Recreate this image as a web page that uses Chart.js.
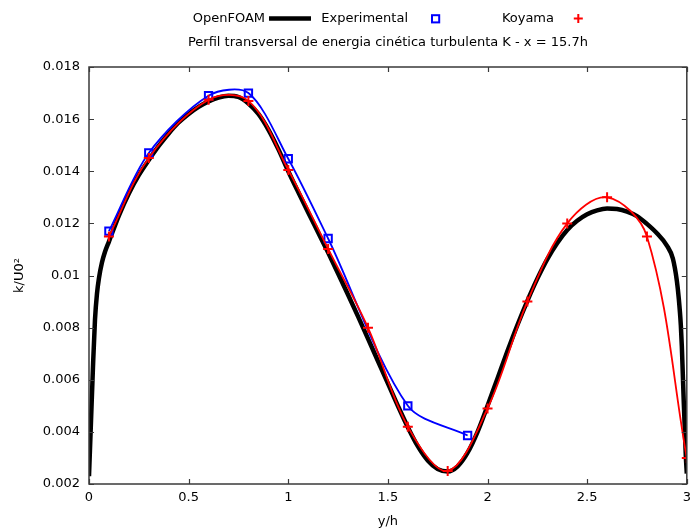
<!DOCTYPE html>
<html>
<head>
<meta charset="utf-8">
<script src="https://cdn.jsdelivr.net/npm/chart.js@4/dist/chart.umd.min.js"></script>
<style>
  html, body { margin: 0; padding: 0; background: #fff; overflow: hidden; }
  #wrap { width: 694px; height: 532px; position: relative; }
</style>
</head>
<body>
<div id="wrap"><canvas id="c"></canvas></div>
<script>
// OpenFOAM profile: position y/h and k/U0^2
const foamYH = [0, 0.01, 0.02, 0.03, 0.04, 0.05, 0.065, 0.08, 0.1, 0.15, 0.2, 0.25, 0.3, 0.35, 0.4, 0.45,
  0.5, 0.55, 0.6, 0.65, 0.7, 0.75, 0.8, 0.85, 0.9, 0.95, 1.0, 1.05, 1.1, 1.15, 1.2, 1.25, 1.3, 1.35,
  1.4, 1.45, 1.5, 1.55, 1.6, 1.65, 1.7, 1.75, 1.8, 1.85, 1.9, 1.95, 2.0, 2.05, 2.1, 2.15, 2.2, 2.25,
  2.3, 2.35, 2.4, 2.45, 2.5, 2.55, 2.6, 2.65, 2.7, 2.75, 2.8, 2.85, 2.9, 2.93, 2.95, 2.96, 2.97,
  2.975, 2.98, 2.985, 2.99, 2.995, 3.0];
const foamK = [0.0023, 0.0044, 0.0065, 0.0083, 0.0093, 0.0099, 0.0105, 0.0109, 0.0113, 0.0123, 0.01315,
  0.01385, 0.01443, 0.01497, 0.01545, 0.01587, 0.0162, 0.01647, 0.01668, 0.01683, 0.0169, 0.01685,
  0.0166, 0.0162, 0.0156, 0.01485, 0.014, 0.0132, 0.01242, 0.01165, 0.01088, 0.01008, 0.00926,
  0.00843, 0.00758, 0.00672, 0.00586, 0.005, 0.00418, 0.00345, 0.0029, 0.00257, 0.00248, 0.00268,
  0.0032, 0.004, 0.005, 0.00605, 0.0071, 0.0081, 0.00903, 0.00988, 0.01063, 0.01125, 0.01175,
  0.0121, 0.01235, 0.0125, 0.01257, 0.01255, 0.01245, 0.01228, 0.01198, 0.01162, 0.01115, 0.01065,
  0.0098, 0.0091, 0.0081, 0.0073, 0.0062, 0.0051, 0.0041, 0.0031, 0.0024];

// Experimental points
const expYH = [0.1, 0.3, 0.6, 0.8, 1.0, 1.2, 1.6, 1.9];
const expK = [0.0117, 0.0147, 0.0169, 0.0170, 0.01448, 0.01142, 0.0050, 0.00386];

// Koyama points
const koyYH = [0.1, 0.3, 0.6, 0.8, 1.0, 1.2, 1.4, 1.6, 1.8, 2.0, 2.2, 2.4, 2.6, 2.8, 3.0];
const koyK = [0.0115, 0.01451, 0.01674, 0.0167, 0.01405, 0.01102, 0.0080, 0.0042, 0.0025, 0.0049,
  0.0090, 0.0120, 0.0130, 0.0115, 0.0030];

// Axis ticks
const xTicks = [0, 0.5, 1, 1.5, 2, 2.5, 3];
const xTickLabels = ['0', '0.5', '1', '1.5', '2', '2.5', '3'];
const yTicks = [0.002, 0.004, 0.006, 0.008, 0.01, 0.012, 0.014, 0.016, 0.018];
const yTickLabels = ['0.002', '0.004', '0.006', '0.008', '0.01', '0.012', '0.014', '0.016', '0.018'];

const FONT = '"DejaVu Sans", "Noto Sans", sans-serif';
Chart.defaults.font.family = FONT;
Chart.defaults.font.size = 13;
Chart.defaults.color = '#000';

const pairs = (xs, ys) => xs.map((x, i) => ({ x: x, y: ys[i] }));

// Frame with inward ticks on all four sides
const framePlugin = {
  id: 'frame',
  afterDatasetsDraw(chart) {
    const { ctx, chartArea: a, scales } = chart;
    ctx.save();
    ctx.strokeStyle = '#3a3a3a';
    ctx.lineWidth = 1.5;
    ctx.strokeRect(a.left, a.top, a.right - a.left, a.bottom - a.top);
    ctx.lineWidth = 1.2;
    ctx.beginPath();
    const len = 5;
    xTicks.forEach(v => {
      const px = Math.round(scales.x.getPixelForValue(v)) + 0.5;
      ctx.moveTo(px, a.bottom); ctx.lineTo(px, a.bottom - len);
      ctx.moveTo(px, a.top); ctx.lineTo(px, a.top + len);
    });
    yTicks.forEach(v => {
      const py = Math.round(scales.y.getPixelForValue(v)) + 0.5;
      ctx.moveTo(a.left, py); ctx.lineTo(a.left + len, py);
      ctx.moveTo(a.right, py); ctx.lineTo(a.right - len, py);
    });
    ctx.stroke();
    ctx.restore();
  }
};

// Key row: label text followed by its sample
const keyPlugin = {
  id: 'keyRow',
  afterDraw(chart) {
    const ctx = chart.ctx;
    const yRow = 19;
    ctx.save();
    ctx.font = '13px ' + FONT;
    ctx.fillStyle = '#000';
    ctx.textAlign = 'right';
    ctx.textBaseline = 'middle';
    ctx.fillText('OpenFOAM', 265, yRow);
    ctx.fillText('Experimental', 408, yRow);
    ctx.fillText('Koyama', 554, yRow);

    ctx.strokeStyle = '#000';
    ctx.lineWidth = 4.5;
    ctx.beginPath();
    ctx.moveTo(269, 18.5); ctx.lineTo(311, 18.5);
    ctx.stroke();

    ctx.strokeStyle = '#0000ff';
    ctx.lineWidth = 2;
    ctx.strokeRect(432, 15.2, 7.2, 7.2);

    ctx.strokeStyle = '#ff0000';
    ctx.lineWidth = 2;
    ctx.beginPath();
    ctx.moveTo(573.8, 18.6); ctx.lineTo(582.8, 18.6);
    ctx.moveTo(578.3, 14.1); ctx.lineTo(578.3, 23.1);
    ctx.stroke();
    ctx.restore();
  }
};

new Chart(document.getElementById('c'), {
  type: 'line',
  data: {
    datasets: [
      {
        label: 'Koyama',
        data: pairs(koyYH, koyK),
        borderColor: '#ff0000',
        backgroundColor: 'rgba(0,0,0,0)',
        borderWidth: 1.8,
        tension: 0.35,
        pointStyle: 'cross',
        pointRadius: 5,
        pointBorderWidth: 2,
        pointBorderColor: '#ff0000',
        order: 1
      },
      {
        label: 'Experimental',
        data: pairs(expYH, expK),
        borderColor: '#0000ff',
        backgroundColor: 'rgba(0,0,0,0)',
        borderWidth: 1.8,
        tension: 0.3,
        pointStyle: 'rect',
        pointRadius: 5.2,
        pointBorderWidth: 2,
        pointBorderColor: '#0000ff',
        pointBackgroundColor: 'rgba(0,0,0,0)',
        order: 2
      },
      {
        label: 'OpenFOAM',
        data: pairs(foamYH, foamK),
        borderColor: '#000000',
        borderWidth: 4.5,
        cubicInterpolationMode: 'monotone',
        pointRadius: 0,
        order: 3
      }
    ]
  },
  options: {
    responsive: true,
    maintainAspectRatio: false,
    animation: false,
    events: [],
    layout: { padding: { top: 30, right: 5, left: 0, bottom: 0 } },
    plugins: {
      legend: { display: false },
      tooltip: { enabled: false },
      title: {
        display: true,
        fullSize: false,
        text: 'Perfil transversal de energia cinética turbulenta K - x = 15.7h',
        font: { size: 13, weight: 'normal', family: FONT },
        color: '#000',
        padding: { top: 5, bottom: 16.4 }
      }
    },
    scales: {
      x: {
        type: 'linear',
        min: 0,
        max: 3,
        grid: { display: false, drawTicks: false },
        border: { display: false },
        afterBuildTicks: s => { s.ticks = xTicks.map(v => ({ value: v })); },
        afterFit: s => { s.height = 48; s.paddingLeft = 0; s.paddingRight = 0; },
        ticks: {
          padding: 6,
          maxRotation: 0,
          autoSkip: false,
          color: '#000',
          callback: (v, i) => xTickLabels[i]
        },
        title: { display: true, text: 'y/h', color: '#000', padding: { top: 0, bottom: 3 } }
      },
      y: {
        type: 'linear',
        min: 0.002,
        max: 0.018,
        grid: { display: false, drawTicks: false },
        border: { display: false },
        afterBuildTicks: s => { s.ticks = yTicks.map(v => ({ value: v })); },
        afterFit: s => { s.width = 89; s.paddingTop = 0; s.paddingBottom = 0; },
        ticks: {
          padding: 9,
          autoSkip: false,
          color: '#000',
          callback: (v, i) => yTickLabels[i]
        },
        title: { display: true, text: 'k/U0²', color: '#000', padding: { top: 12, bottom: 0 } }
      }
    }
  },
  plugins: [framePlugin, keyPlugin]
});
</script>
</body>
</html>
